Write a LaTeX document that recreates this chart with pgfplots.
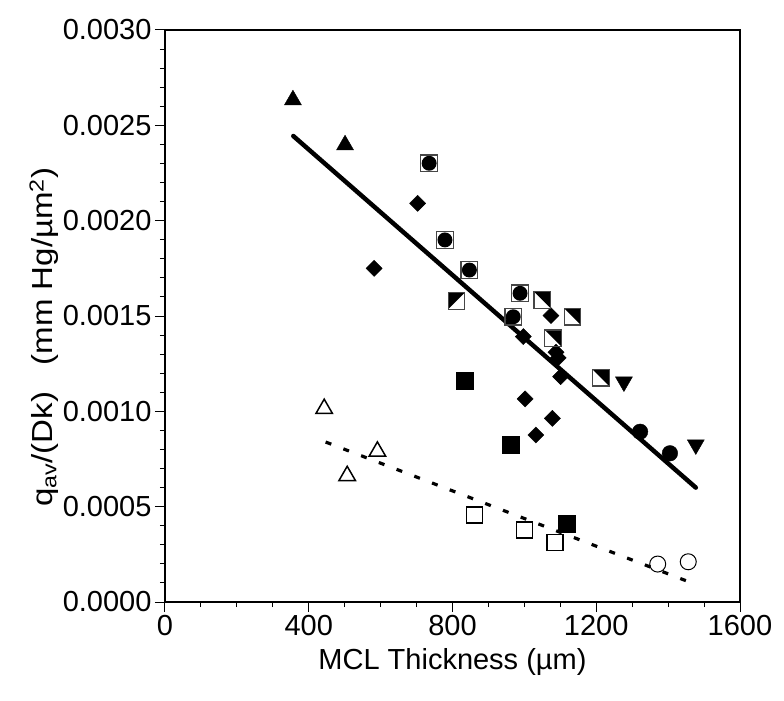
\documentclass[border=0pt]{standalone}
\usepackage{pgfplots}
\pgfplotsset{compat=1.18}
\usepackage{fontspec}
\setmainfont{Liberation Sans}
\definecolor{sqgray}{RGB}{70,70,70}

\pgfdeclareplotmark{cirsq}{%
  \pgfpathcircle{\pgfpointorigin}{0.9\pgfplotmarksize}%
  \pgfsetfillcolor{black}\pgfusepath{fill}%
  \pgfpathrectangle{\pgfpoint{-\pgfplotmarksize}{-\pgfplotmarksize}}{\pgfpoint{2\pgfplotmarksize}{2\pgfplotmarksize}}%
  \pgfsetstrokecolor{sqgray}\pgfusepath{stroke}}
\pgfdeclareplotmark{hsqUR}{%
  \pgfpathmoveto{\pgfpoint{-\pgfplotmarksize}{\pgfplotmarksize}}%
  \pgfpathlineto{\pgfpoint{\pgfplotmarksize}{\pgfplotmarksize}}%
  \pgfpathlineto{\pgfpoint{\pgfplotmarksize}{-\pgfplotmarksize}}%
  \pgfpathclose\pgfsetfillcolor{black}\pgfusepath{fill}%
  \pgfpathrectangle{\pgfpoint{-\pgfplotmarksize}{-\pgfplotmarksize}}{\pgfpoint{2\pgfplotmarksize}{2\pgfplotmarksize}}%
  \pgfsetstrokecolor{sqgray}\pgfusepath{stroke}}
\pgfdeclareplotmark{hsqUL}{%
  \pgfpathmoveto{\pgfpoint{-\pgfplotmarksize}{-\pgfplotmarksize}}%
  \pgfpathlineto{\pgfpoint{-\pgfplotmarksize}{\pgfplotmarksize}}%
  \pgfpathlineto{\pgfpoint{\pgfplotmarksize}{\pgfplotmarksize}}%
  \pgfpathclose\pgfsetfillcolor{black}\pgfusepath{fill}%
  \pgfpathrectangle{\pgfpoint{-\pgfplotmarksize}{-\pgfplotmarksize}}{\pgfpoint{2\pgfplotmarksize}{2\pgfplotmarksize}}%
  \pgfsetstrokecolor{sqgray}\pgfusepath{stroke}}

\begin{document}
\begin{tikzpicture}
\path[use as bounding box] (-165bp,-99bp) rectangle (619bp,602bp);
\begin{axis}[
  at={(0,0)}, anchor=south west,
  scale only axis, width=575bp, height=572bp,
  xmin=0, xmax=1600, ymin=0, ymax=0.003,
  xtick={0,400,800,1200,1600},
  minor xtick={100,200,300,500,600,700,900,1000,1100,1300,1400,1500},
  ytick={0,0.0005,0.001,0.0015,0.002,0.0025,0.003},
  minor ytick={0.0001,0.0002,0.0003,0.0004,0.0006,0.0007,0.0008,0.0009,0.0011,0.0012,0.0013,0.0014,0.0016,0.0017,0.0018,0.0019,0.0021,0.0022,0.0023,0.0024,0.0026,0.0027,0.0028,0.0029},
  scaled y ticks=false, scaled x ticks=false,
  tick align=outside, tick pos=left,
  major tick length=10bp, minor tick length=5bp,
  every tick/.style={black, line width=1pt},
  axis line style={line width=1.5pt},
  /pgf/number format/assume math mode=true,
  ticklabel style={font=\fontsize{29bp}{34bp}\selectfont},
  yticklabel style={/pgf/number format/.cd, fixed, fixed zerofill, precision=4},
  xticklabel style={/pgf/number format/.cd, fixed, 1000 sep={}},
  xlabel={MCL Thickness (µm)},
  ylabel={\scalebox{1.14}[1]{q\textsubscript{av}/(Dk)\hspace{0.8em}(mm Hg/µm\textsuperscript{2})}},
  label style={font=\fontsize{29bp}{34bp}\selectfont},
  xlabel style={at={(rel axis cs:0.5,-0.105)}, anchor=center},
  ylabel style={at={(rel axis cs:-0.2104,0.463)}, anchor=center},
  clip=false,
]
% regression lines
\addplot[black, line width=4.5pt, line cap=round] coordinates {(357,0.002444) (1477,0.0006)};
\addplot[black, line width=3.2pt, dash pattern=on 6bp off 13bp] coordinates {(447,0.000839) (1452,0.00011)};
% filled triangles up
\addplot[only marks, mark=triangle*, mark size=9.8bp, black] coordinates {(356,0.002633) (501,0.002397)};
% circle in square
\addplot[only marks, mark=cirsq, mark size=8.3bp, line width=1.2pt] coordinates {(735,0.002301) (779,0.001899) (847,0.001741) (988,0.001619) (969,0.001496)};
% diamonds
\addplot[only marks, mark=square*, mark size=5.7bp, mark options={rotate=45}, black] coordinates {
(703,0.002091) (582,0.00175) (1074,0.001502) (997,0.001392) (1088,0.00131) (1094,0.00128) (1101,0.001182) (1002,0.001065) (1078,0.000963) (1032,0.000876)};
% half squares
\addplot[only marks, mark=hsqUL, mark size=8.3bp, line width=1.2pt] coordinates {(811,0.001579)};
\addplot[only marks, mark=hsqUR, mark size=8.3bp, line width=1.2pt] coordinates {(1050,0.001584) (1134,0.001496) (1080,0.001383) (1213,0.001176)};
% filled squares
\addplot[only marks, mark=square*, mark size=8.5bp, black] coordinates {(835,0.001161) (963,0.000827) (1119,0.000413)};
% filled circles
\addplot[only marks, mark=*, mark size=7.8bp, black] coordinates {(1322,0.000893) (1405,0.00078)};
% filled triangles down
\addplot[only marks, mark=triangle*, mark size=9.8bp, mark options={rotate=180}, black] coordinates {(1277,0.001155) (1477,0.000825)};
% open squares
\addplot[only marks, mark=square, mark size=8bp, black, line width=1.5pt, mark options={fill=white}] coordinates {(861,0.000456) (1000,0.000378) (1085,0.000311)};
% open circles
\addplot[only marks, mark=o, mark size=8bp, black, line width=1pt] coordinates {(1371,0.000199) (1456,0.000211)};
% open triangles
\addplot[only marks, mark=triangle, mark size=9.5bp, black, line width=1.5pt, mark options={fill=white}] coordinates {(443,0.001014) (591,0.00079) (507,0.000662)};
\end{axis}
\end{tikzpicture}
\end{document}
